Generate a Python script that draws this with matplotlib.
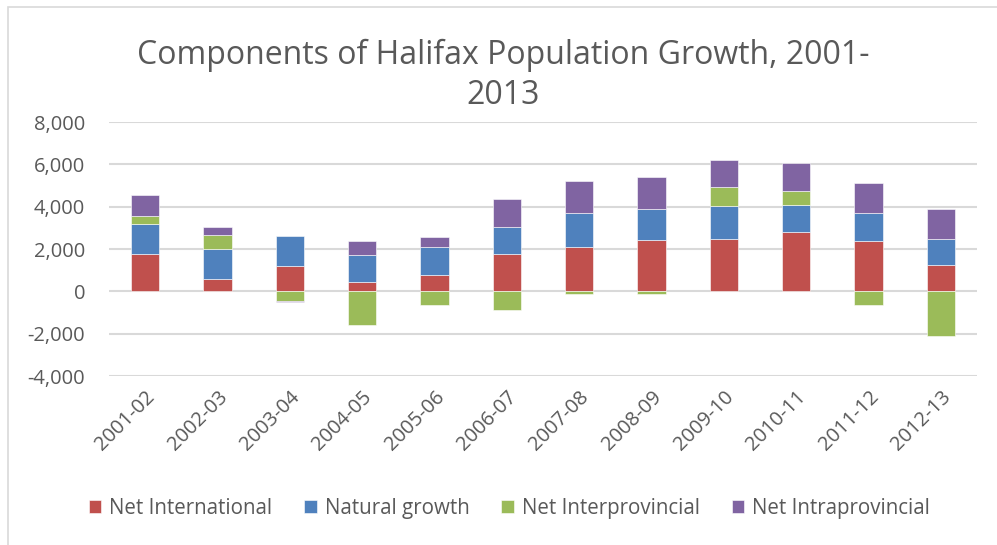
import numpy as np
import matplotlib.pyplot as plt
from matplotlib.patches import Rectangle
from matplotlib.ticker import FuncFormatter

years = ['2001-02', '2002-03', '2003-04', '2004-05', '2005-06', '2006-07',
         '2007-08', '2008-09', '2009-10', '2010-11', '2011-12', '2012-13']
net_international = [1780, 600, 1210, 425, 770, 1780, 2095, 2425, 2470, 2790, 2380, 1260]
natural_growth = [1385, 1385, 1400, 1290, 1340, 1275, 1620, 1480, 1545, 1290, 1320, 1230]
net_interprovincial = [410, 680, -470, -1605, -630, -865, -110, -100, 930, 660, -645, -2110]
net_intraprovincial = [975, 395, -30, 645, 455, 1325, 1510, 1480, 1245, 1305, 1400, 1385]

series = [
    ('Net International', net_international, '#C0504D'),
    ('Natural growth', natural_growth, '#4F81BD'),
    ('Net Interprovincial', net_interprovincial, '#9BBB59'),
    ('Net Intraprovincial', net_intraprovincial, '#8064A2'),
]

plt.rcParams['font.family'] = ['Open Sans', 'DejaVu Sans']
text_color = '#595959'

fig = plt.figure(figsize=(9.97, 5.45), dpi=100)
ax = fig.add_axes([0.1093, 0.31, 0.8707, 0.466])

x = np.arange(len(years))
pos = np.zeros(len(years))
neg = np.zeros(len(years))
for name, vals, color in series:
    vals = np.array(vals, dtype=float)
    bottom = np.where(vals >= 0, pos, neg)
    ax.bar(x, vals, width=0.395, bottom=bottom, color=color, label=name,
           edgecolor='white', linewidth=0.4, zorder=3)
    pos = pos + np.clip(vals, 0, None)
    neg = neg + np.clip(vals, None, 0)

ax.set_xlim(-0.5, len(years) - 0.5)
ax.set_ylim(-4000, 8000)
ax.set_yticks(range(-4000, 8001, 2000))
ax.yaxis.set_major_formatter(FuncFormatter(lambda v, p: f'{int(v):,}'))
ax.grid(axis='y', color='#D9D9D9', linewidth=1.5, zorder=0)
for s in ax.spines.values():
    s.set_visible(False)
ax.tick_params(axis='both', length=0, labelsize=14.5, colors=text_color)
ax.tick_params(axis='y', pad=17)
ax.set_xticks(x)
ax.set_xticklabels(years, rotation=45, ha='right', rotation_mode='anchor')
ax.tick_params(axis='x', pad=8)

fig.text(0.505, 0.862, 'Components of Halifax Population Growth, 2001-\n2013',
         ha='center', va='center', fontsize=23, color=text_color,
         linespacing=1.3)

fig.legend(loc='center', bbox_to_anchor=(0.511, 0.067), ncol=4, frameon=False,
           fontsize=14.8, handlelength=0.6, handleheight=0.6, handletextpad=0.4,
           columnspacing=1.55, labelcolor=text_color)

fig.add_artist(Rectangle((8 / 997, -0.1), 1.2, 1 - 7 / 545 + 0.1,
                         transform=fig.transFigure, fill=False,
                         edgecolor='#D9D9D9', linewidth=1.2))

fig.savefig('out.png', dpi=100)
